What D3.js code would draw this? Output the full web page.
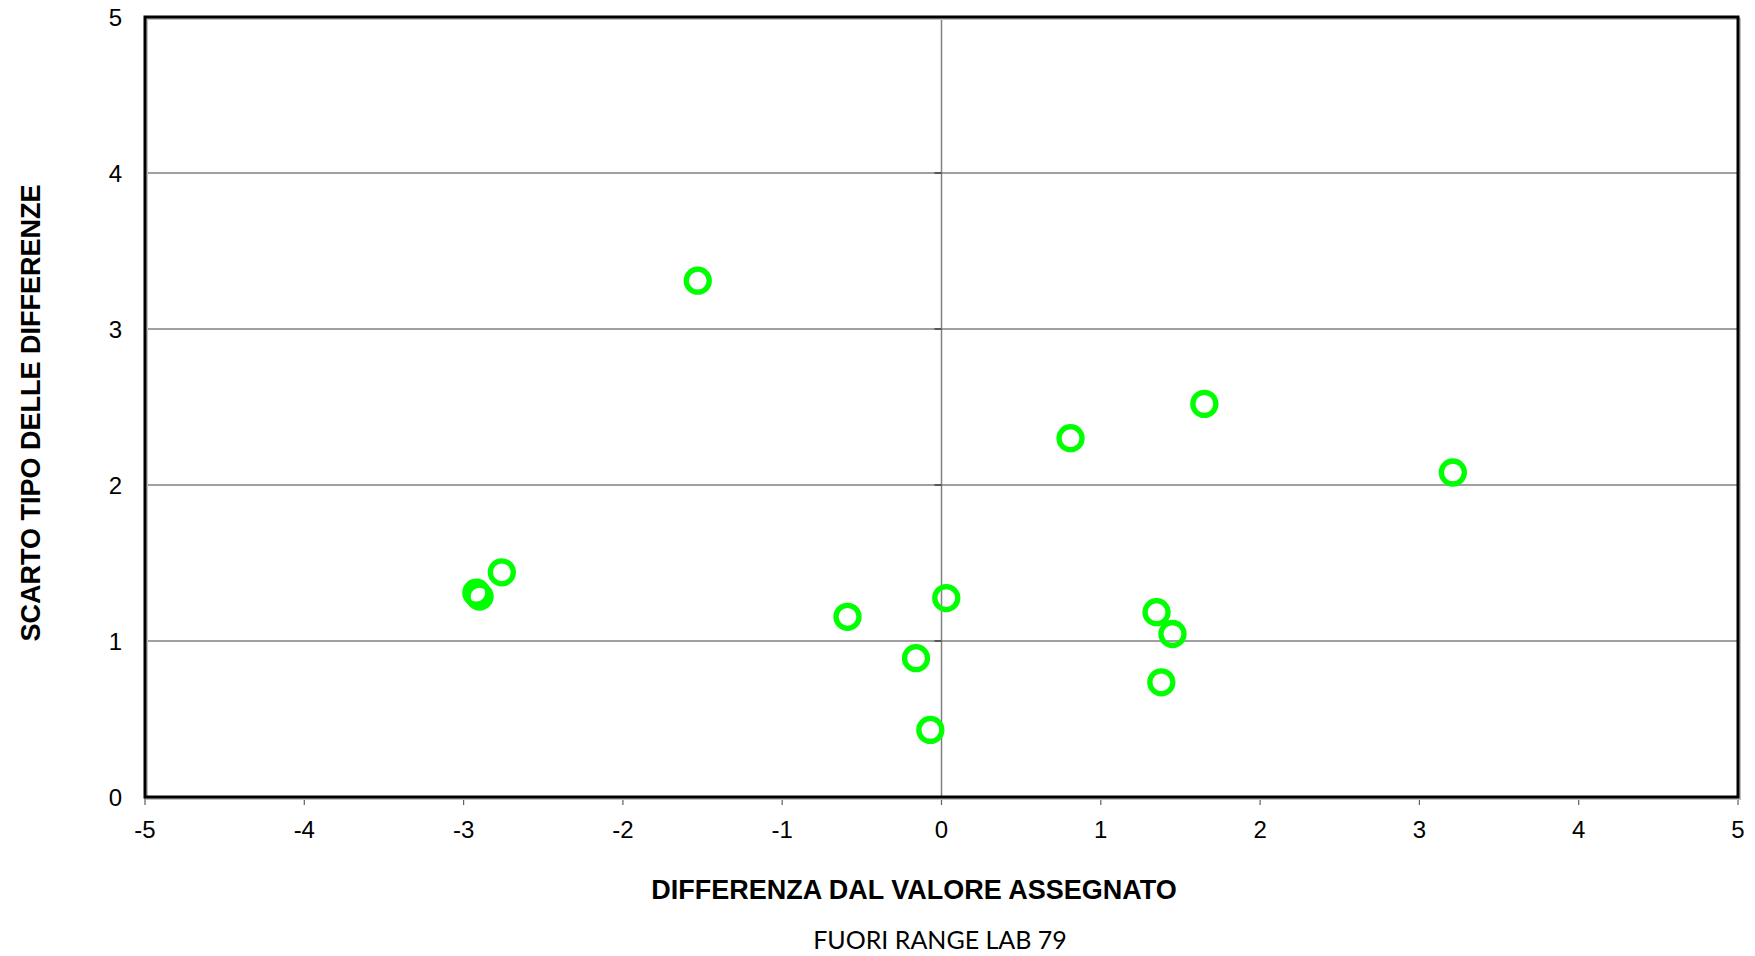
<!DOCTYPE html>
<html><head><meta charset="utf-8">
<script src="https://cdn.jsdelivr.net/npm/d3@7"></script>
<style>body{margin:0;background:#fff}svg{display:block}</style>
</head><body>
<svg id="c" width="1755" height="956"></svg>
<script>
const xVals = [-1.53, 0.81, 1.65, 3.21, -2.76, -2.92, -2.90, -0.59, 0.03, -0.16, -0.07, 1.35, 1.45, 1.38];
const yVals = [3.31, 2.30, 2.52, 2.08, 1.44, 1.31, 1.285, 1.155, 1.275, 0.89, 0.43, 1.185, 1.045, 0.735];
const xTicks = [-5,-4,-3,-2,-1,0,1,2,3,4,5];
const yTicks = [0,1,2,3,4,5];
const xTitle = "DIFFERENZA DAL VALORE ASSEGNATO";
const yTitle = "SCARTO TIPO DELLE DIFFERENZE";
const subTitle = "FUORI RANGE LAB 79";

const L=145, R=1738, T=17, B=797;
const svg = d3.select("#c");
const x = d3.scaleLinear().domain([-5,5]).range([L,R]);
const y = d3.scaleLinear().domain([0,5]).range([B,T]);
const font = "Liberation Sans, Arial, sans-serif";

// horizontal gridlines
svg.append("g").selectAll("line").data(yTicks.filter(d=>d>0&&d<5)).join("line")
  .attr("x1",L).attr("x2",R).attr("y1",d=>y(d)).attr("y2",d=>y(d))
  .attr("stroke","#808080").attr("stroke-width",1.5);
// vertical axis at 0
svg.append("line").attr("x1",x(0)).attr("x2",x(0)).attr("y1",T).attr("y2",B)
  .attr("stroke","#808080").attr("stroke-width",1.5);
svg.append("g").selectAll("line").data(yTicks).join("line")
  .attr("x1",x(0)-7).attr("x2",x(0)).attr("y1",d=>y(d)).attr("y2",d=>y(d))
  .attr("stroke","#404040").attr("stroke-width",1.5);

// x ticks
svg.append("g").selectAll("line").data(xTicks).join("line")
  .attr("x1",d=>x(d)).attr("x2",d=>x(d)).attr("y1",B).attr("y2",B+8)
  .attr("stroke","#606060").attr("stroke-width",1.2);
svg.append("g").selectAll("text").data(xTicks).join("text")
  .attr("x",d=>x(d)).attr("y",838).attr("text-anchor","middle")
  .attr("font-family",font).attr("font-size",24)
  .text(d=>d);
// y tick labels
svg.append("g").selectAll("text").data(yTicks).join("text")
  .attr("x",122).attr("y",d=>y(d)).attr("dy","0.36em").attr("text-anchor","end")
  .attr("font-family",font).attr("font-size",24)
  .text(d=>d);

// frame
svg.append("rect").attr("x",L+2).attr("y",T+2).attr("width",R-L).attr("height",B-T)
  .attr("fill","none").attr("stroke","#c0c0c0").attr("stroke-width",2);
svg.append("rect").attr("x",L).attr("y",T).attr("width",R-L).attr("height",B-T)
  .attr("fill","none").attr("stroke","#000").attr("stroke-width",3);

// points
svg.append("g").selectAll("circle").data(xVals.map((v,i)=>[v,yVals[i]])).join("circle")
  .attr("cx",d=>x(d[0])).attr("cy",d=>y(d[1])).attr("r",11.5)
  .attr("fill","none").attr("stroke","#00ff00").attr("stroke-width",5.3);

// titles
svg.append("text").attr("x",914).attr("y",899).attr("text-anchor","middle")
  .attr("font-family",font).attr("font-weight","bold").attr("font-size",27)
  .text(xTitle);
svg.append("text").attr("transform","translate(40,413) rotate(-90)").attr("text-anchor","middle")
  .attr("font-family",font).attr("font-weight","bold").attr("font-size",27)
  .text(yTitle);
svg.append("text").attr("x",940).attr("y",949).attr("text-anchor","middle")
  .attr("font-family","Lato, Open Sans, sans-serif").attr("font-size",25)
  .text(subTitle);
</script>
</body></html>
